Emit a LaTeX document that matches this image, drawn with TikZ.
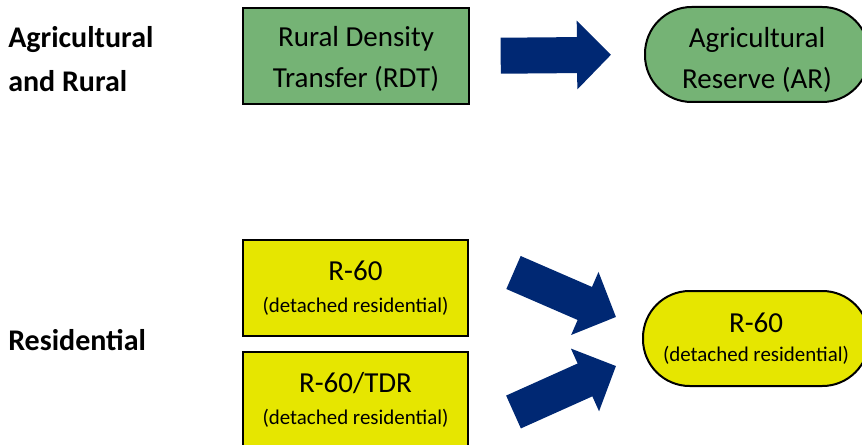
\documentclass[tikz,border=0pt]{standalone}
\usepackage{fontspec}
\setmainfont{Carlito}
\usetikzlibrary{arrows.meta}

\definecolor{rdtgreen}{RGB}{117,179,117}
\definecolor{zoneyellow}{RGB}{230,230,0}
\definecolor{arrownavy}{RGB}{0,40,115}

\newcommand{\bigtxt}{\fontsize{21.75pt}{30.75pt}\selectfont}
\newcommand{\smalltxt}{\fontsize{15.7pt}{20pt}\selectfont}

\tikzset{
  zonebox/.style={draw=black, line width=1.5pt, minimum width=169pt, minimum height=72pt, align=center, inner sep=0pt, font=\bigtxt},
  zoneround/.style={zonebox, rounded corners=35pt},
  grouplabel/.style={anchor=west, align=left, inner sep=0pt, font=\fontsize{22.5pt}{33pt}\selectfont\bfseries},
  fatarrow/.style={draw=arrownavy, line width=27pt, -{Triangle[length=25.5pt, width=50pt, fill=arrownavy]}}
}

\begin{document}
\begin{tikzpicture}[x=0.75pt, y=-0.75pt]
\useasboundingbox (0,0) rectangle (862,445);

% group labels
\node[grouplabel] (agri) at (8,59) {Agricultural\\and Rural};
\node[grouplabel] (resi) at (8,340) {Residential};

% agricultural row
\node[zonebox, fill=rdtgreen] (rdt) at (356,56) {\rule{0pt}{20pt}Rural Density\\Transfer (RDT)};
\node[zoneround, fill=rdtgreen, minimum width=168pt, minimum height=71.25pt] (ar) at (757,54.5) {\rule{0pt}{23pt}Agricultural\\Reserve (AR)};

% residential row
\node[zonebox, fill=zoneyellow] (rsixty) at (355.5,288) {R-60\\[-6.75pt]{\smalltxt (detached residential)}};
\node[zonebox, fill=zoneyellow] (rtdr) at (355.5,400) {R-60/TDR\\[-6.75pt]{\smalltxt (detached residential)}};
\node[zoneround, fill=zoneyellow, minimum width=169.5pt, minimum height=71.25pt] (rtarget) at (756,338.5) {R-60\\[-8.5pt]{\smalltxt (detached residential)}};

% arrows
\draw[fatarrow, shorten <=23.25pt, shorten >=24.75pt] (rdt.east) -- (ar.west);
\coordinate (up1) at (513.5,272.5);
\coordinate (up2) at (616,317);
\coordinate (lo1) at (513.5,412);
\coordinate (lo2) at (616,366);
\draw[fatarrow] (up1) -- (up2);
\draw[fatarrow] (lo1) -- (lo2);

\end{tikzpicture}
\end{document}
